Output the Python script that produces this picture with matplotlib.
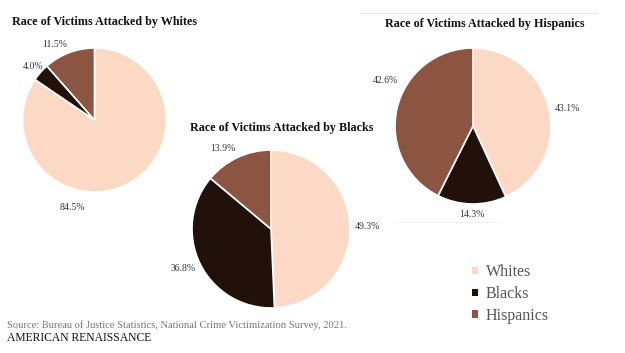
import numpy as np
import matplotlib.pyplot as plt
from matplotlib.patches import Patch

groups = ["Whites", "Blacks", "Hispanics"]
colors = ["#fcd9c4", "#22110b", "#8c5541"]

by_whites = [84.5, 4.0, 11.5]
by_blacks = [49.3, 36.8, 13.9]
by_hispanics = [43.1, 14.3, 42.6]

W, H = 625, 353
fig = plt.figure(figsize=(W / 100, H / 100), dpi=100)
fig.patch.set_facecolor("white")
serif = "Liberation Serif"


def px_axes(cx, cy, r):
    return fig.add_axes([(cx - r) / W, (H - cy - r) / H, 2 * r / W, 2 * r / H])


def draw_pie(ax, vals, nudges, dists):
    wedges, _ = ax.pie(vals, colors=colors, startangle=90, counterclock=False,
                       wedgeprops=dict(edgecolor="white", linewidth=1.2))
    ax.set_xlim(-1, 1)
    ax.set_ylim(-1, 1)
    for w, v, nd, d in zip(wedges, vals, nudges, dists):
        ang = np.deg2rad((w.theta1 + w.theta2) / 2 + nd)
        ax.text(d * np.cos(ang), d * np.sin(ang), f"{v:.1f}%", ha="center",
                va="center", fontsize=7, family=serif, color="#333333")
    return wedges


# faint frame lines of the Hispanics panel
fig.add_artist(plt.Line2D([360 / W, 597 / W], [1 - 13 / H, 1 - 13 / H],
                          color="#e8e8e8", lw=0.8))
fig.add_artist(plt.Line2D([395 / W, 500 / W], [1 - 222 / H, 1 - 222 / H],
                          color="#f0f0f0", lw=0.8))

ax1 = px_axes(94.5, 120, 72)
draw_pie(ax1, by_whites, [-42, 0, 7], [1.25, 1.13, 1.18])
ax2 = px_axes(271, 229, 79)
draw_pie(ax2, by_blacks, [0, -2, 6], [1.22, 1.22, 1.19])
ax3 = px_axes(473, 126, 78)
draw_pie(ax3, by_hispanics, [-2, 0, -14], [1.23, 1.14, 1.26])

title_kw = dict(ha="center", va="center", fontsize=8.7, fontweight="bold",
                family=serif, color="#111111")
fig.text(104 / W, 1 - 22 / H, "Race of Victims Attacked by Whites", **title_kw)
fig.text(282 / W, 1 - 128 / H, "Race of Victims Attacked by Blacks", **title_kw)
fig.text(484.5 / W, 1 - 24 / H, "Race of Victims Attacked by Hispanics", **title_kw)

handles = [Patch(facecolor=c, edgecolor="none") for c in colors]
fig.legend(handles, groups, loc="upper left", bbox_to_anchor=(458 / W, 1 - 250 / H),
           frameon=False, handlelength=0.35, handleheight=0.35, handletextpad=0.5,
           labelspacing=0.36, prop=dict(family=serif, size=11.5), labelcolor="#555555")

fig.text(7 / W, 1 - 325 / H,
         "Source: Bureau of Justice Statistics, National Crime Victimization Survey, 2021.",
         ha="left", va="center", fontsize=7.6, family=serif, color="#777777")
fig.text(7 / W, 1 - 338 / H, "AMERICAN RENAISSANCE", ha="left", va="center",
         fontsize=8.4, family=serif, color="#111111")

fig.savefig("out.png", dpi=100)
